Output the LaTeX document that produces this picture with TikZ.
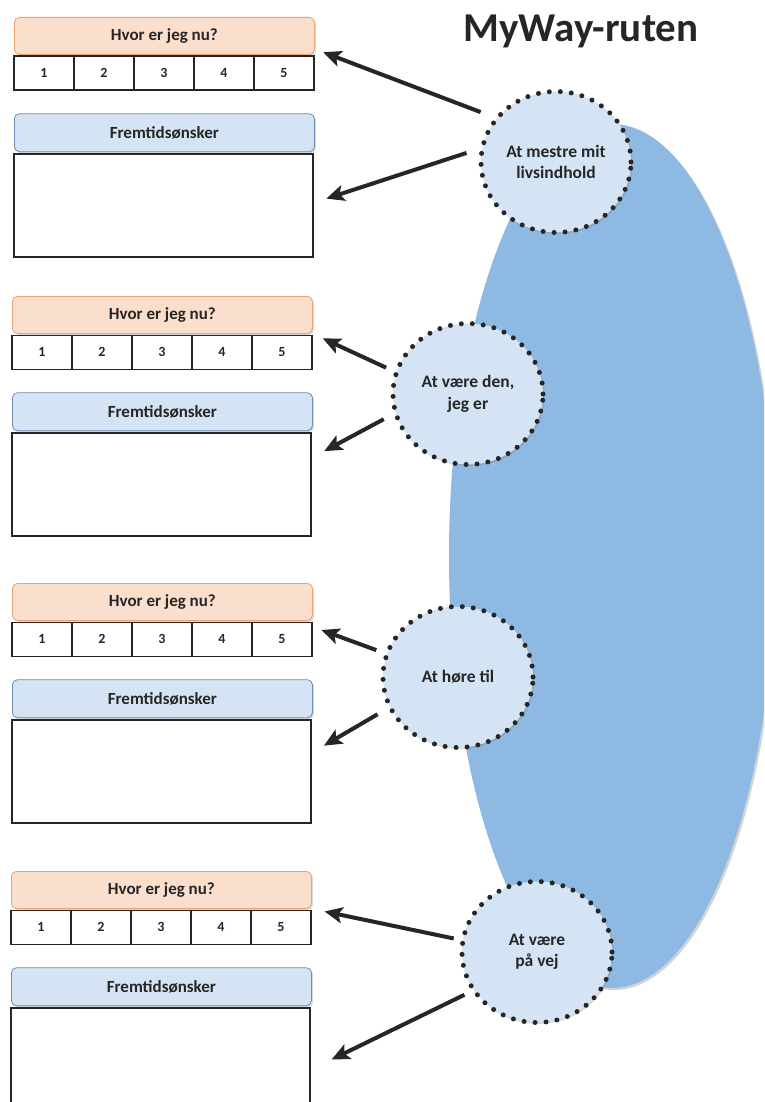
\documentclass[tikz,border=0pt]{standalone}
\usepackage{fontspec}
\setmainfont{Carlito}
\usepackage{tikz}
\usetikzlibrary{arrows.meta,positioning,shapes.geometric,shadows}
\definecolor{peach}{HTML}{FBDFCD}
\definecolor{peachline}{HTML}{F2A06E}
\definecolor{paleblue}{HTML}{D5E4F4}
\definecolor{paleline}{HTML}{6E8DB3}
\definecolor{routeblue}{HTML}{8DB9E2}
\definecolor{ink}{HTML}{262626}
\tikzset{
  softshadow/.style={drop shadow={shadow xshift=1.5pt, shadow yshift=-1.5pt, opacity=0.3}},
  nowhead/.style={rectangle, rounded corners=5pt, draw=peachline, fill=peach, line width=0.8pt,
    minimum width=300pt, minimum height=37pt, inner sep=0pt, text=ink,
    font=\fontsize{17}{19}\selectfont\bfseries, softshadow},
  wishhead/.style={nowhead, draw=paleline, fill=paleblue, minimum height=38pt},
  cell/.style={rectangle, draw=ink, line width=1.6pt, outer sep=0pt, inner sep=0pt,
    minimum width=60pt, minimum height=34pt, text=ink, font=\fontsize{14}{15}\selectfont\bfseries},
  wishbox/.style={rectangle, draw=ink, line width=1.6pt, outer sep=0pt, fill=white,
    minimum width=299pt, minimum height=103pt},
  theme/.style={ellipse, fill=paleblue, draw=ink, line width=5pt, dash pattern=on 0pt off 11pt,
    line cap=round, minimum width=150pt, minimum height=141pt, inner sep=0pt, align=center,
    text=ink, font=\fontsize{17.5}{21.5}\selectfont\bfseries, softshadow},
  pointer/.style={-{Stealth[length=18pt,width=16pt,inset=4pt]}, line width=4pt, draw=ink},
}
\begin{document}
\begin{tikzpicture}[x=1pt,y=-1pt]
\useasboundingbox (0,0) rectangle (764,1102);
\clip (0,0) rectangle (764,1102);

% the route
\node[ellipse, fill=routeblue, minimum width=326pt, minimum height=864pt,
  drop shadow={shadow xshift=2pt, shadow yshift=-2pt, opacity=0.35}] (route) at (612,556) {};
\node[anchor=base, text=ink, font=\fontsize{41}{43}\selectfont\bfseries] (title) at (581,42) {MyWay-ruten};

% the four forms
\foreach \g/\x/\y in {1/14/17, 2/12/296, 3/12/583, 4/11/871} {
  \node[nowhead, anchor=north west] (now\g) at (\x,\y) {Hvor er jeg nu?};
  \node[cell, below right=1.5pt and 0pt of now\g.south west] (s\g-1) {1};
  \foreach \k/\prev in {2/1,3/2,4/3,5/4}
    \node[cell, right=0pt of s\g-\prev] (s\g-\k) {\k};
  \node[wishhead, below right=23pt and 0pt of s\g-1.south west] (wish\g) {Fremtidsønsker};
  \node[wishbox, below right=2pt and 0pt of wish\g.south west] (box\g) {};
}

% themes on the route
\node[theme] (mestre) at (556,162) {At mestre mit\\livsindhold};
\node[theme] (vaere) at (468,394) {At være den,\\jeg er};
\node[theme] (hoere) at (458,677) {At høre til};
\node[theme] (vej) at (537,952) {At være\\på vej};

\draw[pointer, shorten <=15pt, shorten >=9pt] (mestre.144) -- (now1.-5);
\draw[pointer, shorten <=14pt, shorten >=14pt] (mestre.170) -- (box1.1);
\draw[pointer, shorten <=9pt, shorten >=11pt] (vaere.163) -- (now2.south east);
\draw[pointer, shorten <=11pt, shorten >=15pt] (vaere.195) -- (box2.10);
\draw[pointer, shorten <=9pt, shorten >=10pt] (hoere.162) -- (s3-5.23);
\draw[pointer, shorten <=12pt, shorten >=15pt] (hoere.204) -- (box3.7);
\draw[pointer, shorten <=7pt, shorten >=13pt] (vej.171) -- (now4.south east);
\draw[pointer, shorten <=8pt, shorten >=24pt] (vej.211) -- (box4.-4);
\end{tikzpicture}
\end{document}
